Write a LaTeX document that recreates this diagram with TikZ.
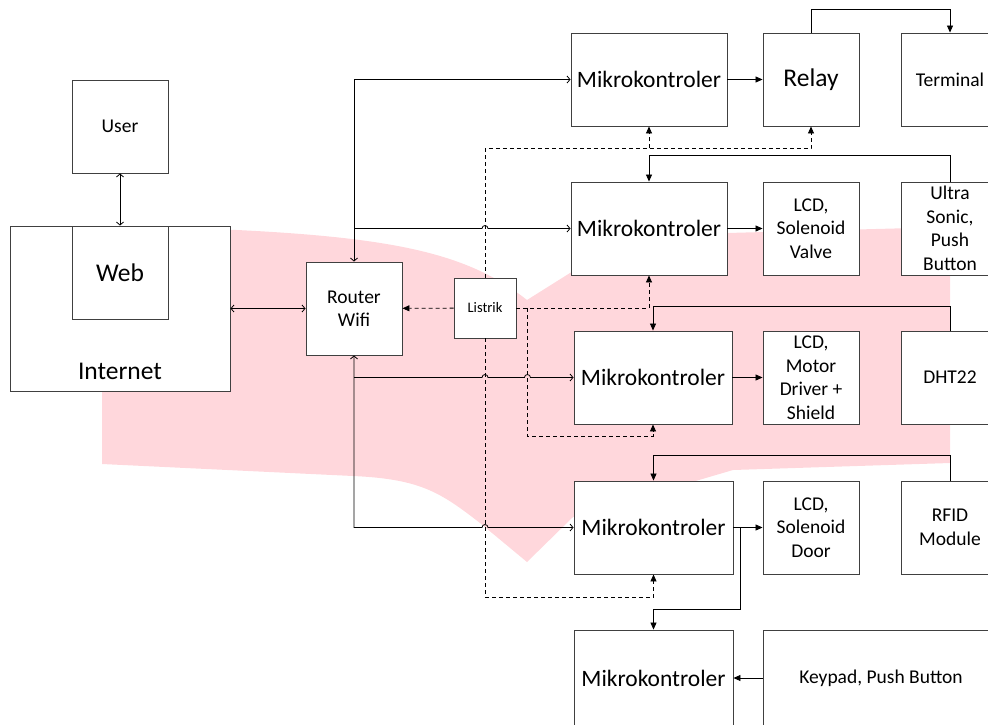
\documentclass[tikz,border=0pt]{standalone}
\usepackage{fontspec}
\setmainfont{Carlito}
\usetikzlibrary{arrows.meta}
\definecolor{wmpink}{RGB}{255,215,220}
\tikzset{
  box/.style={draw=black!75, line width=0.9pt, fill=white, rectangle, minimum width=96pt, minimum height=93pt, inner sep=1pt, align=center, font=\fontsize{19.5}{23.5}\selectfont},
  mcu/.style={box, minimum width=156pt, font=\fontsize{23.5}{28}\selectfont},
  bigtext/.style={font=\fontsize{25.5}{30}\selectfont},
  wire/.style={line width=0.8pt, black},
  power/.style={wire, dash pattern=on 4pt off 3pt},
  fwd/.style={-{Triangle[length=7pt,width=6pt]}},
  barb/.style={-{Straight Barb[length=3pt,width=7pt]}},
  twoway/.style={{Straight Barb[length=3pt,width=7pt]}-{Straight Barb[length=3pt,width=7pt]}},
}
\begin{document}
\begin{tikzpicture}[x=1pt, y=-1pt]
\path[use as bounding box, clip] (0,0) rectangle (988,724);
% background mark
\fill[wmpink] (102,228) -- (237,230) .. controls (400,238) and (470,255) .. (527,300) -- (570,273) .. controls (620,240) and (680,234) .. (727,233) -- (950,227) -- (950,463) -- (733,470) -- (573,517) -- (527,562) -- (480,523) .. controls (440,492) and (420,479) .. (353,476) -- (102,464) -- cycle;

% network side
\node[box, minimum width=220pt, minimum height=165pt] (internet) at (120,308.5) {};
\node[bigtext] (internetText) at (120,371) {Internet};
\node[box, bigtext] (web) at (120,272.5) {Web};
\node[box] (user) at (120,126.5) {User};
\node[box] (router) at (354,308.5) {Router\\Wifi};
\node[box, minimum width=62pt, minimum height=60pt, font=\fontsize{14.5}{17}\selectfont] (listrik) at (485,308) {Listrik};

% controllers and devices
\node[mcu] (mkA) at (649,79.5) {Mikrokontroler};
\node[box, bigtext] (relay) at (811,79.5) {Relay};
\node[box, minimum width=98pt] (terminal) at (950,79.5) {Terminal};
\node[mcu] (mkB) at (649,228.5) {Mikrokontroler};
\node[box] (lcdValve) at (811,228.5) {LCD,\\Solenoid\\Valve};
\node[box, minimum width=98pt] (ultra) at (950,228.5) {Ultra\\Sonic,\\Push\\Button};
\node[mcu, minimum width=158pt] (mkC) at (653,377.5) {Mikrokontroler};
\node[box] (lcdMotor) at (811,377.5) {LCD,\\Motor\\Driver +\\Shield};
\node[box, minimum width=98pt] (dht) at (950,377.5) {DHT22};
\node[mcu, minimum width=159pt] (mkD) at (653.5,527.5) {Mikrokontroler};
\node[box] (lcdDoor) at (811,527.5) {LCD,\\Solenoid\\Door};
\node[box, minimum width=98pt] (rfid) at (950,527.5) {RFID\\Module};
\node[mcu, minimum width=159pt, minimum height=96pt] (mkE) at (653.5,678) {Mikrokontroler};
\node[box, minimum width=236pt, minimum height=96pt] (keypad) at (881,678) {Keypad, Push Button};

% data lines
\draw[wire, twoway] (user) -- (web);
\draw[wire, twoway] (internet) -- (router);
\draw[wire, twoway] (router.north) |- (mkA.west);
\draw[wire, barb] (router.north |- mkB.west) -- ([xshift=-3pt]listrik.north |- mkB.west) arc[start angle=180, end angle=0, radius=3pt] -- (mkB.west);
\draw[wire, barb] (router.south |- mkC.west) -- ([xshift=-3pt]listrik.south |- mkC.west) arc[start angle=180, end angle=0, radius=3pt] -- ([xshift=8pt]listrik.east |- mkC.west) arc[start angle=180, end angle=0, radius=3pt] -- (mkC.west);
\draw[wire, twoway] (router.south) -- (router.south |- mkD.west) -- ([xshift=-3pt]listrik.south |- mkD.west) arc[start angle=180, end angle=0, radius=3pt] -- (mkD.west);

% power lines
\draw[power, fwd] (listrik) -- (router);
\draw[power, fwd] (listrik.north) |- ([yshift=-22pt]relay.south) -- (relay.south);
\draw[power, fwd] ([yshift=-22pt]mkA.south) -- (mkA.south);
\draw[power, fwd] (listrik.east) -| (mkB.south);
\draw[power, fwd] ([xshift=11pt]listrik.east) |- ([yshift=-12pt]mkC.south) -- (mkC.south);
\draw[power, fwd] (listrik.south) |- ([yshift=-23pt]mkD.south) -- (mkD.south);

% outputs and sensors
\draw[wire, fwd] (mkA) -- (relay);
\draw[wire, fwd] (relay.north) -- ++(0,-23) -| (terminal.north);
\draw[wire, fwd] (mkB) -- (lcdValve);
\draw[wire, fwd] (ultra.north) -- ++(0,-26) -| (mkB.north);
\draw[wire, fwd] (mkC) -- (lcdMotor);
\draw[wire, fwd] (dht.north) -- ++(0,-24) -| (mkC.north);
\draw[wire, fwd] (mkD) -- (lcdDoor);
\draw[wire, fwd] (rfid.north) -- ++(0,-25) -| (mkD.north);
\draw[wire, fwd] ([xshift=7pt]mkD.east) |- ([yshift=20pt]mkE.north) -- (mkE.north);
\draw[wire, fwd] (keypad) -- (mkE);
\end{tikzpicture}
\end{document}
